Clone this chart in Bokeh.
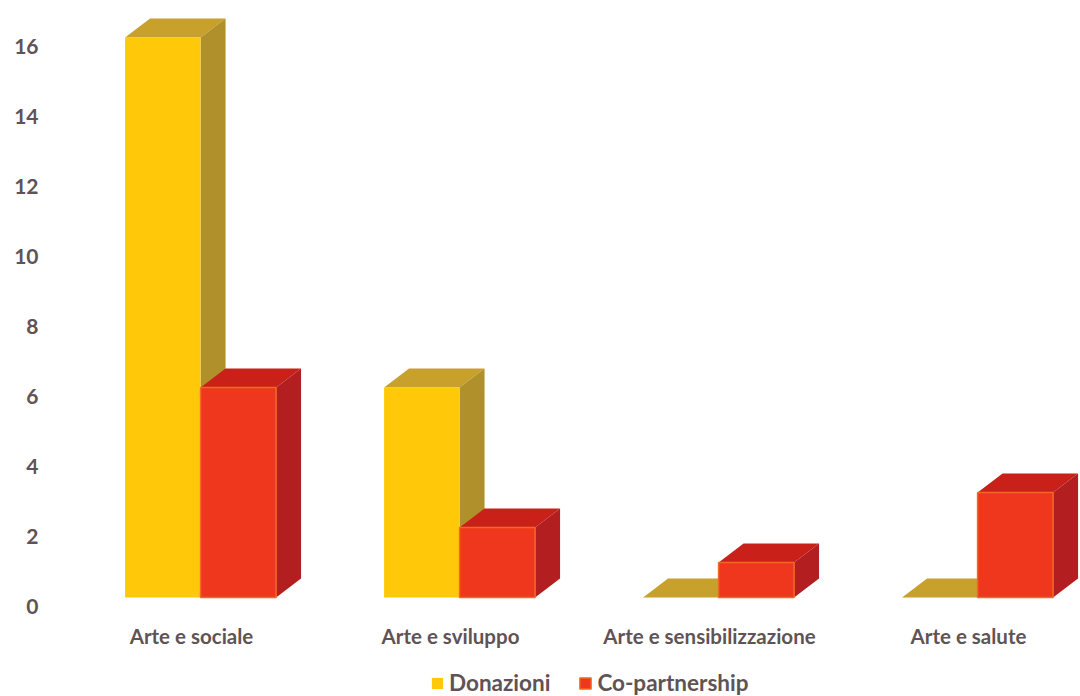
from bokeh.plotting import figure
from bokeh.models import FixedTicker, Legend, LegendItem, Range1d
from bokeh.embed import file_html
from bokeh.resources import INLINE

categories = ["Arte e sociale", "Arte e sviluppo", "Arte e sensibilizzazione", "Arte e salute"]
donazioni = [16, 6, 0, 0]
co_partnership = [6, 2, 1, 3]
y_ticks = [0, 2, 4, 6, 8, 10, 12, 14, 16]

# 3D projection (style): depth and the displacement of the bars from the axis
BAR_W = 0.2915
DEPTH_X = 0.0965
DEPTH_Y = 0.543
BASE = 0.257
SHIFT = 0.035
TEXT = "#5f5355"
FONT = "Lato"

p = figure(frame_width=1030, frame_height=696, output_backend="svg", toolbar_location=None,
           x_range=Range1d(-0.5444, 3.4324), y_range=Range1d(-2.571, 17.314),
           min_border_left=50, min_border_right=0, min_border_top=0, min_border_bottom=0,
           outline_line_color=None, background_fill_color="white")
p.grid.visible = False


def draw(values, left_off, front, side, top, edge):
    xs = [i + SHIFT + left_off for i in range(len(values))]
    tops = [v + BASE for v in values]
    lefts, rights = xs, [x + BAR_W for x in xs]
    p.patches([[l, r, r + DEPTH_X, l + DEPTH_X] for l, r in zip(lefts, rights)],
              [[t, t, t + DEPTH_Y, t + DEPTH_Y] for t in tops],
              fill_color=top, line_color=None)
    p.patches([[r, r + DEPTH_X, r + DEPTH_X, r] for r in rights],
              [[BASE, BASE + DEPTH_Y, t + DEPTH_Y, t] for t in tops],
              fill_color=side, line_color=None)
    return p.quad(left=lefts, right=rights, bottom=[BASE] * len(values), top=tops,
                  fill_color=front, line_color=edge, line_width=1.5)


r1 = draw(donazioni, -BAR_W, "#FFC90A", "#B0902A", "#C8A02C", None)
r2 = draw(co_partnership, 0, "#EE371D", "#B31F20", "#C9201A", "#F26A22")

p.xaxis.ticker = FixedTicker(ticks=list(range(len(categories))))
p.xaxis.major_label_overrides = {i: c for i, c in enumerate(categories)}
p.xaxis.fixed_location = 0
p.yaxis.ticker = FixedTicker(ticks=y_ticks)
for ax, size, standoff in ((p.xaxis[0], "20.5px", 11), (p.yaxis[0], "21px", 6)):
    ax.axis_line_color = None
    ax.major_tick_line_color = None
    ax.minor_tick_line_color = None
    ax.major_label_text_font = FONT
    ax.major_label_text_font_style = "bold"
    ax.major_label_text_font_size = size
    ax.major_label_text_color = TEXT
    ax.major_label_standoff = standoff

legend = Legend(items=[LegendItem(label="Donazioni", renderers=[r1]),
                       LegendItem(label="Co-partnership", renderers=[r2])],
                orientation="horizontal", location=(380, 0),
                border_line_color=None, background_fill_color=None,
                label_text_font=FONT, label_text_font_style="bold",
                label_text_font_size="22.5px", label_text_color=TEXT,
                glyph_width=14, glyph_height=14, spacing=28, padding=0, margin=0,
                label_standoff=5)
p.add_layout(legend, "center")

open("out.html", "w").write(file_html(p, INLINE))
